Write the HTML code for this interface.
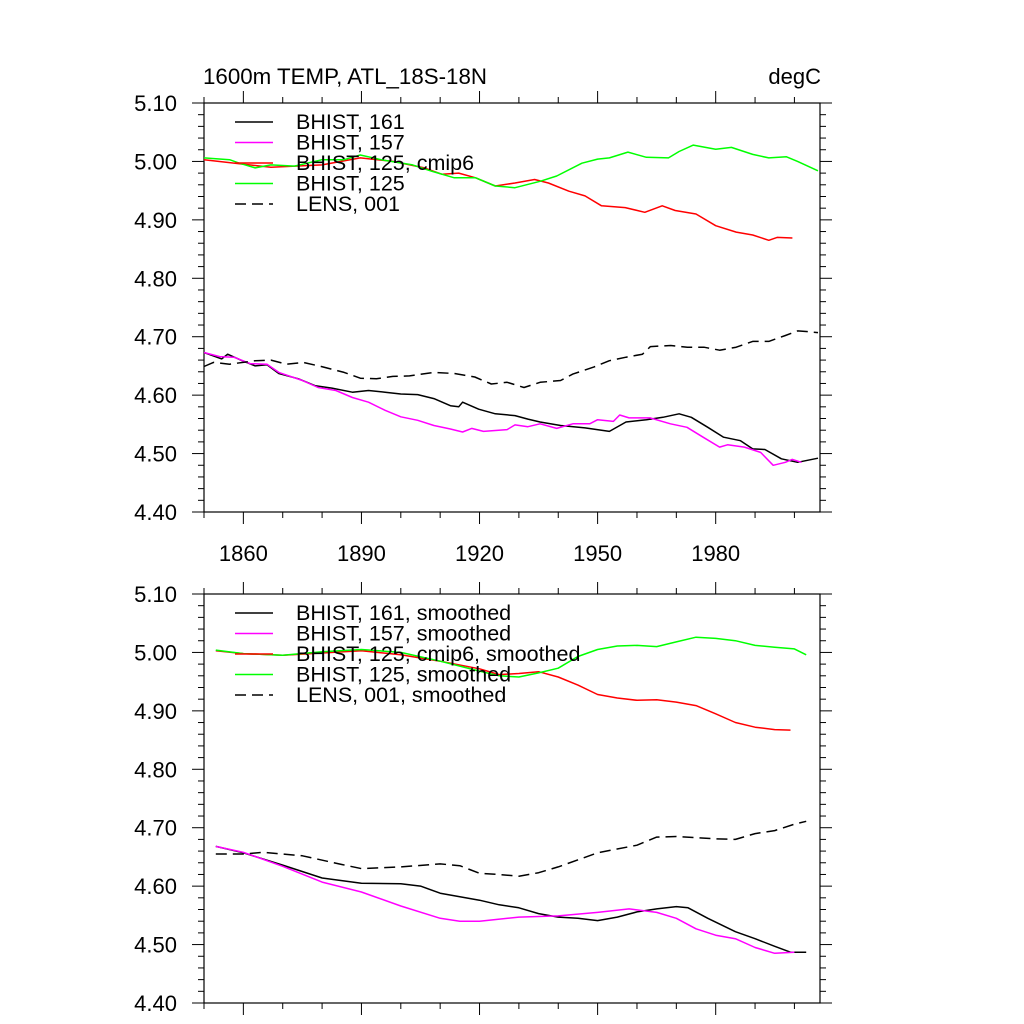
<!DOCTYPE html>
<html><head><meta charset="utf-8"><style>
html,body{margin:0;padding:0;background:#fff;}
svg{display:block;font-family:"Liberation Sans",sans-serif;}
</style></head><body>
<svg id="chart" width="1024" height="1024" viewBox="0 0 1024 1024" xmlns="http://www.w3.org/2000/svg">
<rect width="1024" height="1024" fill="#fff"/>
<text x="203" y="84" font-size="22" textLength="284" lengthAdjust="spacingAndGlyphs">1600m TEMP, ATL_18S-18N</text>
<text x="821" y="84" font-size="22" text-anchor="end">degC</text>
</svg>
<script>
// ---- data ----
const xTickYears = [1860, 1890, 1920, 1950, 1980];
const yTickValues = [4.40, 4.50, 4.60, 4.70, 4.80, 4.90, 5.00, 5.10];
const yTickLabels = ["4.40","4.50","4.60","4.70","4.80","4.90","5.00","5.10"];

const rawBlackYears = [1850,1854.5,1856,1859.7,1863,1866,1869,1874,1878.3,1882.5,1887.7,1891.8,1896,1900,1904.3,1908.4,1912.6,1914.7,1915.7,1919.8,1924,1929,1932.3,1935.4,1940.6,1946.8,1953,1957.2,1962.4,1966.6,1970.7,1973.8,1978,1982,1986.3,1989.4,1992.5,1996.7,2000.8,2006];
const rawBlackVals = [4.673,4.662,4.670,4.659,4.650,4.652,4.637,4.628,4.616,4.612,4.605,4.608,4.605,4.602,4.601,4.594,4.582,4.580,4.588,4.576,4.568,4.565,4.559,4.554,4.548,4.544,4.538,4.554,4.558,4.562,4.568,4.562,4.545,4.528,4.522,4.508,4.507,4.491,4.485,4.492];
const rawMagentaYears = [1850,1854,1857.6,1861.7,1866,1869,1875,1879,1883.5,1887.7,1891.8,1896,1900,1904.3,1908.4,1912.6,1915.7,1918,1921,1927,1929,1932.3,1935.4,1939.6,1943.7,1948,1950,1954,1955.6,1958,1963.3,1968.5,1972.7,1976.8,1981,1983,1987.3,1991.4,1994.6,1997.7,1999.4,2001.8];
const rawMagentaVals = [4.673,4.666,4.665,4.654,4.653,4.639,4.625,4.613,4.608,4.596,4.588,4.574,4.563,4.557,4.548,4.542,4.537,4.543,4.538,4.541,4.549,4.546,4.551,4.543,4.551,4.551,4.558,4.555,4.566,4.561,4.561,4.551,4.545,4.528,4.511,4.515,4.511,4.502,4.480,4.485,4.490,4.485];
const rawLensYears = [1850,1852.4,1856.5,1863,1867,1871,1875.2,1880.4,1885.6,1889.7,1893.8,1898,1902.2,1908.4,1913.6,1918.8,1923,1927,1931.3,1935.4,1940.6,1943.7,1949,1953,1957.2,1961.4,1963.4,1968.6,1972.8,1977,1981,1985.2,1989.4,1993.5,1997.7,2000.8,2003,2006];
const rawLensVals = [4.649,4.656,4.653,4.659,4.660,4.653,4.656,4.648,4.639,4.629,4.628,4.632,4.633,4.639,4.637,4.631,4.619,4.622,4.613,4.622,4.625,4.636,4.648,4.659,4.665,4.670,4.683,4.685,4.682,4.682,4.677,4.682,4.692,4.692,4.702,4.710,4.709,4.707];
const rawRedYears = [1850,1867,1880,1889.7,1898,1906,1910.5,1914.7,1919,1924,1929,1934,1937.5,1942.7,1946.8,1951,1957,1962,1966.4,1969.7,1975,1980,1985.2,1989.4,1993.5,1995.6,1999.5];
const rawRedVals = [5.003,4.990,4.994,5.006,5.000,4.989,4.978,4.980,4.972,4.958,4.963,4.969,4.963,4.949,4.941,4.924,4.921,4.913,4.924,4.916,4.910,4.890,4.879,4.874,4.865,4.870,4.869];
const rawGreenYears = [1850,1856.5,1859,1863,1867,1873,1880,1885.6,1889.7,1895,1903,1908,1913.6,1919,1924,1929,1935.4,1939.6,1946,1950,1953,1957.7,1962.4,1968,1970.7,1974.3,1980,1984,1989.4,1993.5,1998,2000.8,2006];
const rawGreenVals = [5.006,5.003,4.997,4.989,4.994,4.992,5.003,5.003,5.011,5.003,4.994,4.983,4.972,4.972,4.958,4.955,4.966,4.975,4.997,5.004,5.006,5.016,5.007,5.006,5.017,5.028,5.021,5.024,5.012,5.006,5.008,5.000,4.984];

const smBlackYears = [1853,1860,1870,1880,1890,1900,1905,1910,1920,1925,1930,1935,1940,1945,1950,1955,1960,1965,1970,1973,1978,1985,1990,1995,1999,2003];
const smBlackVals = [4.668,4.657,4.636,4.614,4.605,4.604,4.600,4.588,4.576,4.568,4.563,4.553,4.547,4.545,4.541,4.547,4.556,4.561,4.565,4.563,4.545,4.522,4.510,4.497,4.487,4.487];
const smMagentaYears = [1853,1860,1870,1880,1890,1900,1910,1915,1920,1930,1940,1950,1958,1965,1970,1975,1980,1985,1990,1995,2000];
const smMagentaVals = [4.668,4.658,4.634,4.607,4.590,4.566,4.545,4.540,4.540,4.547,4.549,4.555,4.561,4.555,4.545,4.527,4.516,4.510,4.495,4.485,4.487];
const smLensYears = [1853,1860,1865,1875,1885,1890,1900,1910,1915,1920,1925,1930,1935,1940,1950,1960,1965,1970,1980,1985,1990,1995,2000,2003];
const smLensVals = [4.655,4.655,4.658,4.652,4.637,4.630,4.633,4.638,4.635,4.622,4.620,4.617,4.623,4.633,4.657,4.670,4.684,4.685,4.681,4.680,4.690,4.695,4.706,4.711];
const smRedYears = [1853,1860,1870,1880,1890,1900,1910,1920,1925,1930,1935,1940,1945,1950,1955,1960,1965,1970,1975,1980,1985,1990,1995,1999];
const smRedVals = [5.003,4.998,4.995,4.999,5.003,4.996,4.985,4.972,4.962,4.964,4.967,4.958,4.944,4.928,4.922,4.918,4.919,4.915,4.909,4.895,4.880,4.872,4.868,4.867];
const smGreenYears = [1853,1860,1870,1880,1890,1900,1910,1920,1925,1930,1935,1940,1945,1950,1955,1960,1965,1970,1975,1980,1985,1990,1995,2000,2003];
const smGreenVals = [5.004,4.998,4.995,5.001,5.005,5.000,4.985,4.968,4.960,4.958,4.965,4.973,4.993,5.005,5.011,5.012,5.010,5.018,5.026,5.024,5.020,5.012,5.009,5.006,4.996];

const legendTop = ["BHIST, 161","BHIST, 157","BHIST, 125, cmip6","BHIST, 125","LENS, 001"];
const legendBottom = ["BHIST, 161, smoothed","BHIST, 157, smoothed","BHIST, 125, cmip6, smoothed","BHIST, 125, smoothed","LENS, 001, smoothed"];

// ---- drawing ----
const NS = "http://www.w3.org/2000/svg";
const svg = document.getElementById('chart');
const X0 = 204, X1 = 820, YR0 = 1850, YR1 = 2006.5;
const V0 = 4.40, V1 = 5.10;
function xScale(yr){ return X0 + (yr - YR0) / (YR1 - YR0) * (X1 - X0); }
function mk(tag, attrs, parent){ const e = document.createElementNS(NS, tag); for (const k in attrs) e.setAttribute(k, attrs[k]); (parent||svg).appendChild(e); return e; }

function drawPanel(top, bottom, name, series, legend, legendY, showXLabels){
  const g = mk('g', {});
  
  
  const yScale = v => bottom - (v - V0) / (V1 - V0) * (bottom - top);
  const tg = mk('g', {stroke:'#000','stroke-width':1}, g);
  for (let yr = 1850; yr <= 2000; yr += 10){
    const x = xScale(yr), major = (yr - 1860) % 30 === 0;
    const L = major ? 12 : 6;
    mk('line', {x1:x, y1:bottom, x2:x, y2:bottom+L}, tg);
    mk('line', {x1:x, y1:top, x2:x, y2:top-L}, tg);
  }
  for (let i = 0; i <= 35; i++){
    const v = V0 + i * 0.02, y = yScale(v), major = i % 5 === 0;
    const L = major ? 12 : 6;
    mk('line', {x1:X0, y1:y, x2:X0-L, y2:y}, tg);
    mk('line', {x1:X1, y1:y, x2:X1+L, y2:y}, tg);
  }
  const frame = mk('rect', {x:X0, y:top, width:X1-X0, height:bottom-top, fill:'none', stroke:'#000', 'stroke-width':1.2}, g);
  
  
  yTickValues.forEach((v, i) => {
    const t = mk('text', {x:177, y:yScale(v)+8, 'font-size':22, 'text-anchor':'end'}, g);
    
    
    t.textContent = yTickLabels[i];
  });
  if (showXLabels){
    xTickYears.forEach(yr => {
      const t = mk('text', {x:xScale(yr), y:bottom+49, 'font-size':22, 'text-anchor':'middle'}, g);
      
      
      t.textContent = yr;
    });
  }
  series.forEach(s => {
    const d = s.years.map((yr, i) => (i ? 'L' : 'M') + xScale(yr).toFixed(1) + ' ' + yScale(s.vals[i]).toFixed(1)).join(' ');
    const p = mk('path', {d:d, fill:'none', stroke:s.color, 'stroke-width':1.5, 'stroke-linejoin':'round'}, g);
    if (s.dash) p.setAttribute('stroke-dasharray', '11 6');
    
    
  });
  const legendColors = ['#000','#ff00ff','#ff0000','#00ff00','#000'];
  legend.forEach((label, i) => {
    const y = legendY + i * 20.5;
    const lg = mk('g', {}, g);
    
    
    const ln = mk('line', {x1:235, y1:y, x2:273, y2:y, stroke:legendColors[i], 'stroke-width':1.5}, lg);
    if (i === 4) ln.setAttribute('stroke-dasharray', '11 6');
    const t = mk('text', {x:296, y:y+7, 'font-size':21.5}, lg);
    t.textContent = label;
  });
}

drawPanel(103, 512, 'top-panel', [
  {name:'series-bhist-161', years:rawBlackYears, vals:rawBlackVals, color:'#000'},
  {name:'series-bhist-157', years:rawMagentaYears, vals:rawMagentaVals, color:'#ff00ff'},
  {name:'series-lens-001', years:rawLensYears, vals:rawLensVals, color:'#000', dash:true},
  {name:'series-bhist-125-cmip6', years:rawRedYears, vals:rawRedVals, color:'#ff0000'},
  {name:'series-bhist-125', years:rawGreenYears, vals:rawGreenVals, color:'#00ff00'}
], legendTop, 122, true);

drawPanel(594, 1003, 'bottom-panel', [
  {name:'series-bhist-161-smoothed', years:smBlackYears, vals:smBlackVals, color:'#000'},
  {name:'series-bhist-157-smoothed', years:smMagentaYears, vals:smMagentaVals, color:'#ff00ff'},
  {name:'series-lens-001-smoothed', years:smLensYears, vals:smLensVals, color:'#000', dash:true},
  {name:'series-bhist-125-cmip6-smoothed', years:smRedYears, vals:smRedVals, color:'#ff0000'},
  {name:'series-bhist-125-smoothed', years:smGreenYears, vals:smGreenVals, color:'#00ff00'}
], legendBottom, 613, false);
</script>
</body></html>
